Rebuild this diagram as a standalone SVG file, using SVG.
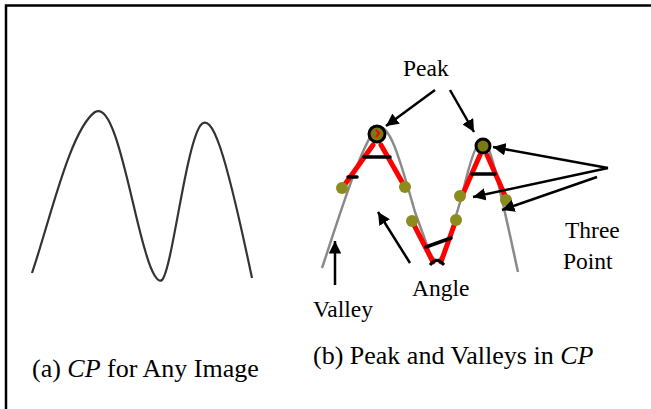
<svg xmlns="http://www.w3.org/2000/svg" width="651" height="409" viewBox="0 0 651 409">
<defs>
<marker id="ah" viewBox="0 0 10 10" refX="10" refY="5" markerWidth="5" markerHeight="5" markerUnits="strokeWidth" orient="auto">
<path d="M0,0 L10,5 L0,10 z" fill="#000"/>
</marker>
<style>
text{font-family:"Liberation Serif","Times New Roman",serif;font-size:23.5px;fill:#000}
.cap{font-size:26px}
.it{font-style:italic}
.arr{stroke:#000;stroke-width:2.5;fill:none;marker-end:url(#ah)}
.red{stroke:#ff0000;stroke-width:5;stroke-linecap:round;fill:none}
.bar{stroke:#000;stroke-width:3.5;stroke-linecap:round}
.dot{fill:#8c8c1e}
</style>
</defs>
<rect width="651" height="409" fill="#fff"/>
<g id="frame" fill="none" stroke="#000" stroke-width="2.5">
<path d="M6,409 V5.5 H651"/>
</g>
<g id="cp-any">
<path d="M32,273 C50,220 70,130 95,112 C115,100 130,200 145,250 C152,275 158,283 162,280 C172,270 185,150 200,126 C212,110 225,150 252,278" fill="none" stroke="#333" stroke-width="2.2"/>
</g>
<g id="cp-peaks">
<path d="M322,268 C335,230 362,140 377,128 C390,122 400,160 415,212 L428,248 Q437,272 446,248 L462,196 C470,160 477,140 483,140 C490,140 500,190 518,272" fill="none" stroke="#8a8a8a" stroke-width="2.5"/>
<line class="red" x1="373" y1="145" x2="343" y2="187"/>
<line class="red" x1="381" y1="145" x2="405" y2="187"/>
<line class="red" x1="412" y1="221" x2="433" y2="262"/>
<line class="red" x1="456" y1="220" x2="441" y2="262"/>
<line class="red" x1="480" y1="155" x2="462" y2="196"/>
<line class="red" x1="487" y1="155" x2="507" y2="200"/>
<line class="bar" x1="364" y1="157" x2="390" y2="157"/>
<line class="bar" x1="348" y1="177" x2="357" y2="177" stroke-width="2"/>
<line class="bar" x1="426" y1="247" x2="451" y2="238"/>
<line class="bar" x1="472" y1="174" x2="495" y2="174"/>
<path d="M430,265 Q437,256 444,265" fill="none" stroke="#000" stroke-width="3"/>
<circle class="dot" cx="342" cy="188" r="6"/>
<circle class="dot" cx="405" cy="187" r="6"/>
<circle class="dot" cx="412" cy="221" r="6"/>
<circle class="dot" cx="456" cy="220" r="6"/>
<circle class="dot" cx="460" cy="196" r="6"/>
<circle class="dot" cx="506" cy="200" r="6"/>
<circle cx="377" cy="134" r="8" fill="#7a7a10" stroke="#000" stroke-width="3"/>
<path d="M376,130 l3,3 l-3,4" fill="none" stroke="#ff0000" stroke-width="2"/>
<circle cx="483" cy="146" r="7" fill="#7a7a10" stroke="#000" stroke-width="3"/>
</g>
<g id="connectors">
<line class="arr" x1="435" y1="90" x2="386" y2="126"/>
<line class="arr" x1="450" y1="90" x2="474" y2="132"/>
<line class="arr" x1="608" y1="168" x2="493" y2="147"/>
<line class="arr" x1="608" y1="168" x2="473" y2="197"/>
<line class="arr" x1="597" y1="177" x2="502" y2="210"/>
<line class="arr" x1="410" y1="263" x2="378" y2="212"/>
<line class="arr" x1="335" y1="285" x2="335" y2="241"/>
</g>
<g id="labels">
<text x="403" y="76">Peak</text>
<text x="565" y="238">Three</text>
<text x="563" y="269">Point</text>
<text x="412" y="296">Angle</text>
<text x="313" y="317">Valley</text>
<text class="cap" x="32" y="377">(a) <tspan class="it">CP</tspan> for Any Image</text>
<text class="cap" x="313" y="364">(b) Peak and Valleys in <tspan class="it">CP</tspan></text>
</g>
</svg>
